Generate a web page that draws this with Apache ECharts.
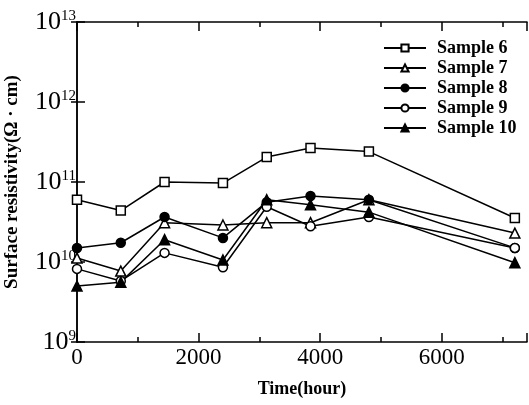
<!DOCTYPE html>
<html>
<head>
<meta charset="utf-8">
<script src="https://cdn.jsdelivr.net/npm/echarts@6/dist/echarts.min.js"></script>
<style>
  html, body { margin: 0; padding: 0; background: #fff; }
  #chart { width: 529px; height: 405px; }
</style>
</head>
<body>
<div id="chart"></div>
<script>
// hours of exposure
const hours = [0, 720, 1440, 2400, 3120, 3840, 4800, 7200];

// surface resistivity, ohm*cm
const sample6  = [6.0e10, 4.4e10, 1.0e11, 9.7e10, 2.05e11, 2.66e11, 2.4e11, 3.55e10];
const sample7  = [1.12e10, 7.7e9, 3.1e10, 2.9e10, 3.1e10, 3.1e10, 6.0e10, 2.3e10];
const sample8  = [1.5e10, 1.74e10, 3.65e10, 2.0e10, 5.6e10, 6.7e10, 6.0e10, 1.5e10];
const sample9  = [8.2e9, 5.8e9, 1.3e10, 8.6e9, 4.9e10, 2.8e10, 3.65e10, 1.5e10];
const sample10 = [5.0e9, 5.6e9, 1.9e10, 1.06e10, 6.0e10, 5.2e10, 4.2e10, 9.8e9];

const xTickLabels = ['0', '2000', '4000', '6000'];

const serif = "'Liberation Serif', 'DejaVu Serif', serif";

function pairs(ys) {
    return hours.map((h, i) => [h, ys[i]]);
}

// each sample: [name, values, marker, filled, size]
const samples = [
    ['Sample 6', sample6, 'rect', false, 9],
    ['Sample 7', sample7, 'triangle', false, 10],
    ['Sample 8', sample8, 'circle', true, 9],
    ['Sample 9', sample9, 'circle', false, 9],
    ['Sample 10', sample10, 'triangle', true, 10]
];

const chart = echarts.init(document.getElementById('chart'));

const xBase = {
    type: 'value', min: 0, max: 7400, gridIndex: 0,
    splitLine: { show: false },
    axisLine: { show: false },
    axisLabel: { show: false }
};

chart.setOption({
    animation: false,
    backgroundColor: '#fff',
    grid: { left: 77, right: 2, top: 22, bottom: 63, show: false, outerBoundsMode: 'none', containLabel: false },
    legend: {
        orient: 'vertical',
        left: 383,
        top: 39,
        padding: 0,
        itemWidth: 42,
        itemHeight: 9,
        itemGap: 2,
        data: samples.map(s => s[0]),
        textStyle: { fontFamily: serif, fontWeight: 'bold', fontSize: 18, color: '#000', padding: [0, 0, 0, 6] }
    },
    xAxis: [
        Object.assign({}, xBase, {
            position: 'bottom',
            interval: 1000,
            name: 'Time(hour)',
            nameLocation: 'middle',
            nameGap: 38,
            nameMoveOverlap: false,
            nameTextStyle: { fontFamily: serif, fontWeight: 'bold', fontSize: 18, color: '#000', verticalAlign: 'top' },
            axisLine: { show: true, lineStyle: { color: '#000', width: 1.5 } },
            axisTick: { inside: true, length: 5, lineStyle: { color: '#000', width: 1.5 } },
            axisLabel: {
                show: true, margin: 4, color: '#000', fontFamily: serif, fontSize: 23,
                formatter: v => xTickLabels.indexOf(String(v)) >= 0 ? String(v) : ''
            }
        }),
        Object.assign({}, xBase, {
            position: 'bottom', interval: 2000,
            axisTick: { inside: true, length: 9, lineStyle: { color: '#000', width: 1.5 } }
        }),
        Object.assign({}, xBase, {
            position: 'top', interval: 1000,
            axisLine: { show: true, lineStyle: { color: '#000', width: 1.5 } },
            axisTick: { inside: true, length: 5, lineStyle: { color: '#000', width: 1.5 } }
        }),
        Object.assign({}, xBase, {
            position: 'top', interval: 2000,
            axisTick: { inside: true, length: 9, lineStyle: { color: '#000', width: 1.5 } }
        })
    ],
    yAxis: [
        {
            type: 'log', logBase: 10, min: 1e9, max: 1e13,
            position: 'left',
            name: 'Surface resistivity(\u03a9 \u00b7 cm)',
            nameLocation: 'middle',
            nameGap: 55,
            nameMoveOverlap: false,
            nameTextStyle: { fontFamily: serif, fontWeight: 'bold', fontSize: 19, color: '#000' },
            splitLine: { show: false },
            axisLine: { show: true, lineStyle: { color: '#000', width: 1.5 } },
            axisTick: { inside: true, length: 8, lineStyle: { color: '#000', width: 1.5 } },
            axisLabel: {
                margin: 1,
                formatter: v => '{b|10}{s|' + Math.round(Math.log10(v)) + '}',
                rich: {
                    b: { fontFamily: serif, fontSize: 26, color: '#000' },
                    s: { fontFamily: serif, fontSize: 15, color: '#000', padding: [0, 0, 11, 0] }
                }
            }
        },
        {
            type: 'log', logBase: 10, min: 1e9, max: 1e13,
            position: 'right',
            splitLine: { show: false },
            axisLine: { show: true, lineStyle: { color: '#000', width: 1.5 } },
            axisTick: { inside: true, length: 6, lineStyle: { color: '#000', width: 1.5 } },
            axisLabel: { show: false }
        }
    ],
    series: samples.map(s => ({
        name: s[0],
        type: 'line',
        xAxisIndex: 0,
        yAxisIndex: 0,
        data: pairs(s[1]),
        symbol: s[2],
        symbolSize: s[4],
        showAllSymbol: true,
        lineStyle: { color: '#000', width: 1.5 },
        itemStyle: { color: s[3] ? '#000' : '#fff', borderColor: '#000', borderWidth: 1.5 }
    }))
});
</script>
</body>
</html>
